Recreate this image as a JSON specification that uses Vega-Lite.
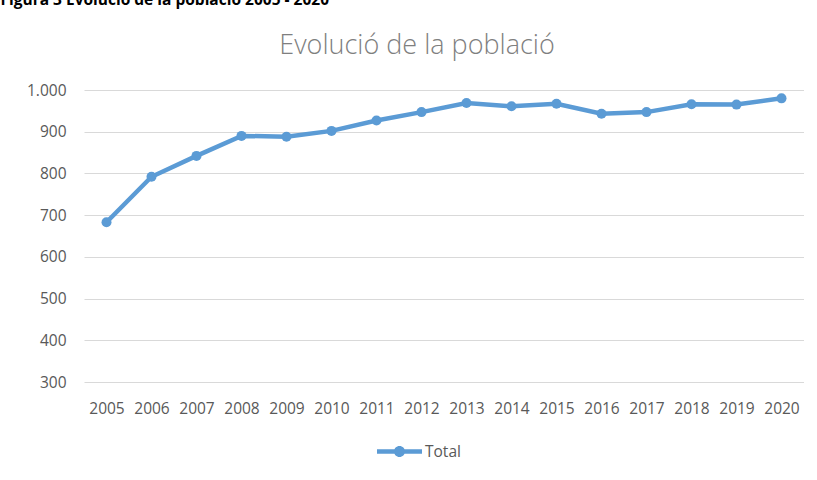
{
  "$schema": "https://vega.github.io/schema/vega-lite/v6.json",
  "background": "white",
  "padding": {"left": 0, "top": -8, "right": 0, "bottom": 0},
  "title": {
    "text": "Figura 3 Evolució de la població 2005 - 2020",
    "anchor": "start",
    "font": "Open Sans",
    "fontSize": 15.5,
    "fontWeight": "bold",
    "color": "#000000",
    "dx": -26,
    "offset": 24
  },
  "vconcat": [
    {
      "width": 720,
      "height": 292,
      "title": {
        "text": "Evolució de la població",
        "anchor": "middle",
        "frame": "group",
        "font": "Open Sans",
        "fontSize": 27,
        "fontWeight": 300,
        "color": "#7f7f7f",
        "dx": -27,
        "offset": 23
      },
      "data": {
        "values": [
          {"any": "2005", "poblacio": 683, "serie": "Total"},
          {"any": "2006", "poblacio": 792, "serie": "Total"},
          {"any": "2007", "poblacio": 842, "serie": "Total"},
          {"any": "2008", "poblacio": 890, "serie": "Total"},
          {"any": "2009", "poblacio": 888, "serie": "Total"},
          {"any": "2010", "poblacio": 902, "serie": "Total"},
          {"any": "2011", "poblacio": 927, "serie": "Total"},
          {"any": "2012", "poblacio": 947, "serie": "Total"},
          {"any": "2013", "poblacio": 969, "serie": "Total"},
          {"any": "2014", "poblacio": 961, "serie": "Total"},
          {"any": "2015", "poblacio": 967, "serie": "Total"},
          {"any": "2016", "poblacio": 943, "serie": "Total"},
          {"any": "2017", "poblacio": 947, "serie": "Total"},
          {"any": "2018", "poblacio": 966, "serie": "Total"},
          {"any": "2019", "poblacio": 965, "serie": "Total"},
          {"any": "2020", "poblacio": 980, "serie": "Total"}
        ]
      },
      "mark": {
        "type": "line",
        "strokeWidth": 4.5,
        "point": {"size": 100, "filled": true, "opacity": 1}
      },
      "encoding": {
        "x": {
          "field": "any",
          "type": "ordinal",
          "scale": {"type": "point", "padding": 0.5},
          "axis": {
            "title": null,
            "labelAngle": 0,
            "domain": false,
            "ticks": false,
            "grid": false,
            "labelPadding": 19,
            "labelFont": "Open Sans",
            "labelFontSize": 15.5,
            "labelColor": "#595959"
          }
        },
        "y": {
          "field": "poblacio",
          "type": "quantitative",
          "scale": {"domain": [300, 1000], "nice": false, "zero": false},
          "axis": {
            "title": null,
            "values": [300, 400, 500, 600, 700, 800, 900, 1000],
            "labelExpr": "replace(format(datum.value, ','), ',', '.')",
            "domain": false,
            "ticks": false,
            "grid": true,
            "gridColor": "#d9d9d9",
            "gridWidth": 1,
            "labelPadding": 18,
            "labelFont": "Open Sans",
            "labelFontSize": 15.5,
            "labelColor": "#595959"
          }
        },
        "color": {
          "field": "serie",
          "type": "nominal",
          "scale": {"range": ["#5b9bd5"]},
          "legend": {
            "title": null,
            "orient": "none",
            "legendX": 293,
            "legendY": 339,
            "direction": "horizontal",
            "symbolType": "M-1,-0.1H1V0.1H-1Z M0.245,0A0.245,0.245 0 1,1 -0.245,0A0.245,0.245 0 1,1 0.245,0Z",
            "symbolSize": 2025,
            "symbolFillColor": "#5b9bd5",
            "symbolStrokeWidth": 0,
            "symbolOpacity": 1,
            "labelFont": "Open Sans",
            "labelFontSize": 15.5,
            "labelColor": "#595959",
            "labelOffset": 3
          }
        }
      }
    }
  ],
  "config": {
    "view": {"stroke": null}
  }
}
